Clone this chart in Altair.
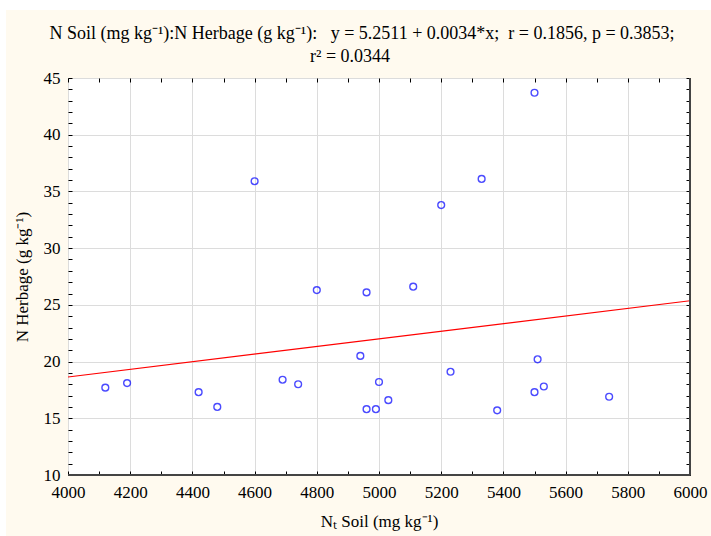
import altair as alt
import pandas as pd

# Data
soil_n = [4120, 4190, 4420, 4480, 4600, 4690, 4740, 4800, 4940, 4960, 4960, 4990,
          5000, 5030, 5110, 5200, 5230, 5330, 5380, 5500, 5500, 5510, 5530, 5740]
herb_n = [17.7, 18.1, 17.3, 16.0, 35.9, 18.4, 18.0, 26.3, 20.5, 26.1, 15.8, 15.8,
          18.2, 16.6, 26.6, 33.8, 19.1, 36.1, 15.7, 43.7, 17.3, 20.2, 17.8, 16.9]

x_ticks = list(range(4000, 6001, 200))
y_ticks = list(range(10, 46, 5))
x_minor = list(range(4000, 6001, 100))
y_minor = list(range(10, 46, 1))

NB = "\u00a0"
title_line1 = ("N Soil (mg kg\u207b\u00b9):N Herbage (g kg\u207b\u00b9):" + NB * 3 +
               "y = 5.2511 + 0.0034*x;" + NB * 2 + "r = 0.1856, p = 0.3853;")
title_line2 = "r\u00b2 = 0.0344"
x_title = "N\u209c Soil (mg kg\u207b\u00b9)"
y_title = "N Herbage (g kg\u207b\u00b9)"

df = pd.DataFrame({"soil": soil_n, "herb": herb_n})
one = pd.DataFrame({"k": [0]})

W, H = 622, 397
PL, PT, PR, PB = 68, 78, 21, 61
FONT = "Liberation Serif"
CREAM = "#FFFAEF"

xs = alt.Scale(domain=[4000, 6000], nice=False, zero=False)
ys = alt.Scale(domain=[10, 45], nice=False, zero=False)

main_x = alt.Axis(orient="bottom", values=x_ticks, format="d", grid=True, gridColor="#DCDCDC",
                  gridWidth=1, ticks=False, domain=False, labelPadding=9, labelFont=FONT,
                  labelFontSize=17, labelColor="#000", labelFlush=False, labelOverlap=False,
                  title=x_title, titleFont=FONT,
                  titleFontSize=17, titleFontWeight="normal", titleColor="#000", titlePadding=13)
main_y = alt.Axis(orient="left", values=y_ticks, grid=True, gridColor="#DCDCDC", gridWidth=1,
                  ticks=False, domain=False, labelPadding=8, labelFont=FONT, labelFontSize=17,
                  labelColor="#000", labelFlush=False, labelOverlap=False,
                  title=y_title, titleFont=FONT, titleFontSize=17,
                  titleFontWeight="normal", titleColor="#000", titlePadding=12)

points = alt.Chart(df).mark_point(shape="circle", filled=False, color="#0000FF", size=46,
                                  strokeWidth=1.4).encode(
    x=alt.X("soil:Q", scale=xs, axis=main_x),
    y=alt.Y("herb:Q", scale=ys, axis=main_y),
)

# regression line (red), also carrying inner ticks at bottom/left
reg = alt.Chart(df).transform_regression("soil", "herb", extent=[4000, 6000]).mark_line(
    color="#FF0000", strokeWidth=1.2).encode(
    x=alt.X("soil:Q", scale=xs, axis=alt.Axis(orient="top", offset=-H, values=x_minor, labels=False,
                                               grid=False, domain=False, ticks=True, tickSize=4,
                                               tickColor="#000", title=None)),
    y=alt.Y("herb:Q", scale=ys, axis=alt.Axis(orient="right", offset=-W, values=y_minor, labels=False,
                                               grid=False, domain=False, ticks=True, tickSize=4,
                                               tickColor="#000", title=None)),
)

# invisible layer carrying inner ticks at top/right
ticks_tr = alt.Chart(df).mark_point(opacity=0).encode(
    x=alt.X("soil:Q", scale=xs, axis=alt.Axis(orient="bottom", offset=-H, values=x_minor, labels=False,
                                               grid=False, domain=False, ticks=True, tickSize=4,
                                               tickColor="#000", title=None)),
    y=alt.Y("herb:Q", scale=ys, axis=alt.Axis(orient="left", offset=-W, values=y_minor, labels=False,
                                               grid=False, domain=False, ticks=True, tickSize=4,
                                               tickColor="#000", title=None)),
)

# darker right/bottom frame edges
frame_r = alt.Chart(one).mark_rule(color="#444", strokeWidth=2).encode(
    x=alt.value(W), y=alt.value(0), y2=alt.value(H))
frame_b = alt.Chart(one).mark_rule(color="#444", strokeWidth=2).encode(
    x=alt.value(0), x2=alt.value(W), y=alt.value(H))

# white margins at top and left of the cream page
strip_top = alt.Chart(one).mark_rect(fill="white").encode(
    x=alt.value(-PL), x2=alt.value(W + PR), y=alt.value(-PT), y2=alt.value(-PT + 10))
strip_left = alt.Chart(one).mark_rect(fill="white").encode(
    x=alt.value(-PL), x2=alt.value(-PL + 6), y=alt.value(-PT), y2=alt.value(H + PB))

# chart title (two lines)
t1 = alt.Chart(one).mark_text(font=FONT, fontSize=18, color="#000", align="center",
                              baseline="alphabetic").encode(
    x=alt.value(362 - PL), y=alt.value(39 - PT), text=alt.value(title_line1))
t2 = alt.Chart(one).mark_text(font=FONT, fontSize=18, color="#000", align="center",
                              baseline="alphabetic").encode(
    x=alt.value(350 - PL), y=alt.value(62 - PT), text=alt.value(title_line2))

chart = alt.layer(points, reg, ticks_tr, frame_r, frame_b, strip_top, strip_left, t1, t2).resolve_axis(
    x="independent", y="independent"
).properties(
    width=W, height=H,
    autosize=alt.AutoSizeParams(type="none"),
    padding={"left": PL, "top": PT, "right": PR, "bottom": PB},
    background=CREAM,
).configure_view(fill="white", stroke="#000", strokeWidth=1)

chart.save("out.html", embed_options={"renderer": "svg", "actions": False})
